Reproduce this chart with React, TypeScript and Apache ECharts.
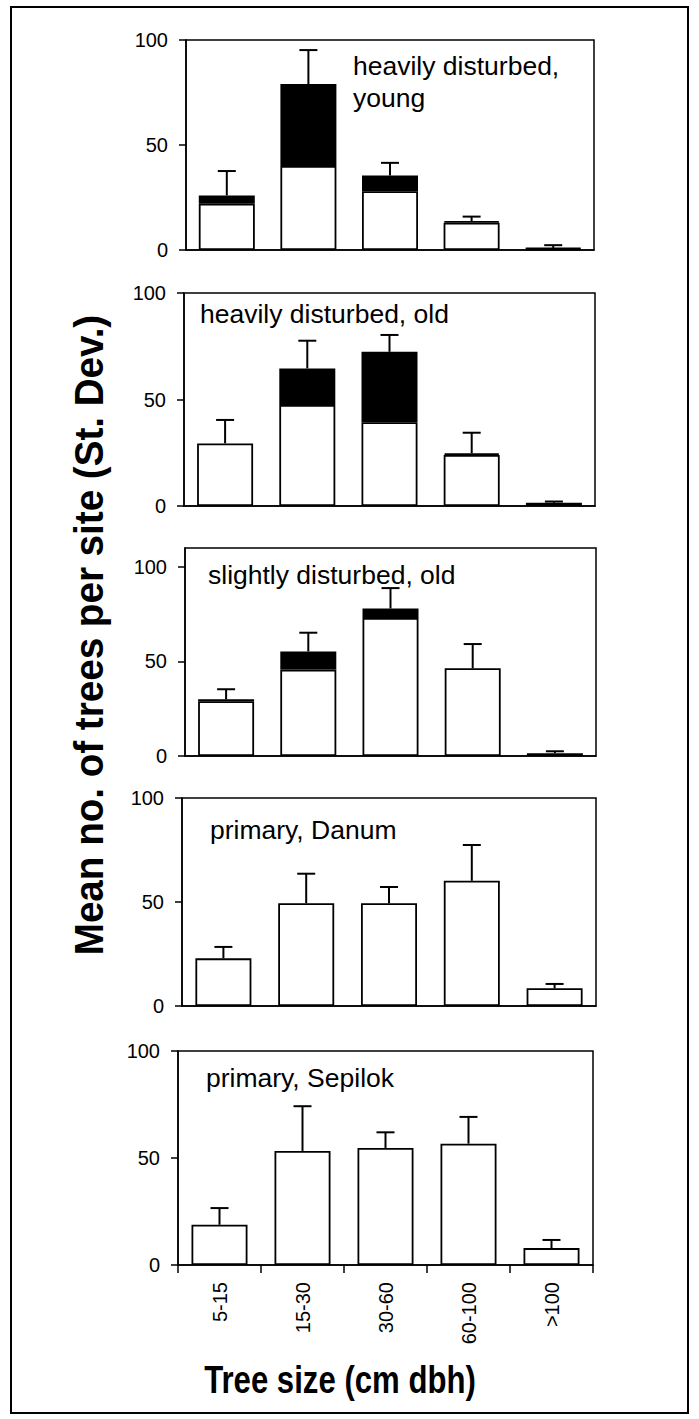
import React, { useEffect, useRef } from "react";
import * as echarts from "echarts";

const categories = ["5-15", "15-30", "30-60", "60-100", ">100"];
const panelTitles = [
  ["heavily disturbed,", "young"],
  ["heavily disturbed, old"],
  ["slightly disturbed, old"],
  ["primary, Danum"],
  ["primary, Sepilok"],
];
const yTicks = [0, 50, 100];

// white (lower) part of each bar
const youngWhite = [22, 40, 28, 13, 0.5];
const youngBlack = [4, 39, 7.5, 0.7, 0.5];
const youngSd = [11.6, 16.2, 6, 2.2, 1.3];

const heavyOldWhite = [29.4, 47.4, 39.3, 24, 1.5];
const heavyOldBlack = [0, 17.2, 33.1, 0.8, 0];
const heavyOldSd = [11, 13, 7.9, 9.6, 0.6];

const slightWhite = [29, 45.7, 73, 46.4, 1.5];
const slightBlack = [1, 9.6, 5, 0, 0];
const slightSd = [5.3, 9.9, 10.8, 12.8, 1];

const danumWhite = [22.9, 49.4, 49.4, 60.2, 8.5];
const danumBlack = [0, 0, 0, 0, 0];
const danumSd = [5.5, 14.2, 7.8, 17.2, 2.1];

const sepilokWhite = [18.8, 53.3, 54.7, 56.7, 7.9];
const sepilokBlack = [0, 0, 0, 0, 0];
const sepilokSd = [7.8, 20.9, 7.3, 12.5, 3.8];

const panelData = [
  { white: youngWhite, black: youngBlack, sd: youngSd, max: 100 },
  { white: heavyOldWhite, black: heavyOldBlack, sd: heavyOldSd, max: 100 },
  { white: slightWhite, black: slightBlack, sd: slightSd, max: 110 },
  { white: danumWhite, black: danumBlack, sd: danumSd, max: 100 },
  { white: sepilokWhite, black: sepilokBlack, sd: sepilokSd, max: 100 },
];

// layout (pixels)
const gridBoxes = [
  { left: 186, top: 40, width: 408, height: 210 },
  { left: 184, top: 293, width: 411, height: 213 },
  { left: 185, top: 548, width: 411, height: 208 },
  { left: 182, top: 798, width: 414, height: 208 },
  { left: 178, top: 1051, width: 415, height: 214 },
];
const titlePos = [
  [{ x: 353, y: 66 }, { x: 353, y: 98 }],
  [{ x: 200, y: 314 }],
  [{ x: 208, y: 575 }],
  [{ x: 210, y: 830 }],
  [{ x: 206, y: 1078 }],
];

const FONT = "'Liberation Sans', Arial, sans-serif";

export default function App() {
  const ref = useRef<HTMLDivElement>(null);
  useEffect(() => {
    if (!ref.current) return;
    const chart = echarts.init(ref.current, undefined, { renderer: "svg" });
    const grid: any[] = [];
    const xAxis: any[] = [];
    const yAxis: any[] = [];
    const series: any[] = [];
    const graphic: any[] = [];

    panelData.forEach((p, i) => {
      const last = i === panelData.length - 1;
      grid.push({
        ...gridBoxes[i],
        show: true,
        borderColor: "#000",
        borderWidth: 1.5,
        backgroundColor: "transparent",
      });
      xAxis.push({
        type: "category",
        gridIndex: i,
        data: categories,
        axisLine: { show: true, lineStyle: { color: "#000", width: 1.5 } },
        axisTick: { show: last, length: 8, lineStyle: { color: "#000", width: 1.5 } },
        axisLabel: {
          show: last,
          rotate: 90,
          margin: 17,
          fontSize: 20,
          color: "#000",
          fontFamily: FONT,
        },
        splitLine: { show: false },
      });
      yAxis.push({
        type: "value",
        gridIndex: i,
        min: 0,
        max: p.max,
        interval: 50,
        axisLine: { show: true, lineStyle: { color: "#000", width: 1.5 } },
        axisTick: {
          show: true,
          length: 7,
          customValues: yTicks,
          lineStyle: { color: "#000", width: 1.5 },
        },
        axisLabel: {
          margin: 18,
          fontSize: 20,
          color: "#000",
          fontFamily: FONT,
          customValues: yTicks,
        },
        splitLine: { show: false },
      });
      series.push({
        type: "bar",
        xAxisIndex: i,
        yAxisIndex: i,
        stack: "s" + i,
        barWidth: 56,
        data: p.white,
        itemStyle: { color: "#fff", borderColor: "#000", borderWidth: 1.8 },
        z: 2,
      });
      series.push({
        type: "bar",
        xAxisIndex: i,
        yAxisIndex: i,
        stack: "s" + i,
        barWidth: 56,
        data: p.black.map((v) => (v > 0 ? v : null)),
        itemStyle: { color: "#000", borderColor: "#000", borderWidth: 1.8 },
        z: 2,
      });
      const errData = p.white.map((w, k) => {
        const total = w + (p.black[k] || 0);
        return [k, total, total + p.sd[k]];
      });
      series.push({
        type: "custom",
        xAxisIndex: i,
        yAxisIndex: i,
        z: 3,
        data: errData,
        renderItem: (_params: any, api: any) => {
          const x = api.value(0);
          const p0 = api.coord([x, api.value(1)]);
          const p1 = api.coord([x, api.value(2)]);
          return {
            type: "group",
            children: [
              {
                type: "line",
                shape: { x1: p0[0], y1: p0[1], x2: p1[0], y2: p1[1] },
                style: { stroke: "#000", lineWidth: 2 },
              },
              {
                type: "line",
                shape: { x1: p1[0] - 9, y1: p1[1], x2: p1[0] + 9, y2: p1[1] },
                style: { stroke: "#000", lineWidth: 2 },
              },
            ],
          };
        },
      });
      panelTitles[i].forEach((t, j) => {
        graphic.push({
          type: "text",
          x: titlePos[i][j].x,
          y: titlePos[i][j].y,
          style: {
            text: t,
            fontSize: 26.5,
            fontFamily: FONT,
            fill: "#000",
            align: "left",
            verticalAlign: "middle",
          },
          z: 10,
        });
      });
    });

    graphic.push({
      type: "rect",
      shape: { x: 11, y: 7, width: 677, height: 1406 },
      style: { fill: "none", stroke: "#000", lineWidth: 2 },
      z: 0,
    });
    graphic.push({
      type: "text",
      x: 89,
      y: 635,
      rotation: Math.PI / 2,
      scaleX: 0.965,
      style: {
        text: "Mean no. of trees per site (St. Dev.)",
        fontSize: 40,
        fontWeight: "bold",
        fontFamily: FONT,
        fill: "#000",
        align: "center",
        verticalAlign: "middle",
      },
      z: 10,
    });
    graphic.push({
      type: "text",
      x: 340,
      y: 1380,
      scaleX: 0.82,
      style: {
        text: "Tree size (cm dbh)",
        fontSize: 38,
        fontWeight: "bold",
        fontFamily: FONT,
        fill: "#000",
        align: "center",
        verticalAlign: "middle",
      },
      z: 10,
    });

    chart.setOption({
      animation: false,
      backgroundColor: "#fff",
      grid,
      xAxis,
      yAxis,
      series,
      graphic,
    });
    return () => chart.dispose();
  }, []);
  return (
    <div
      ref={ref}
      style={{ position: "absolute", left: 0, top: 0, width: 699, height: 1419 }}
    />
  );
}
